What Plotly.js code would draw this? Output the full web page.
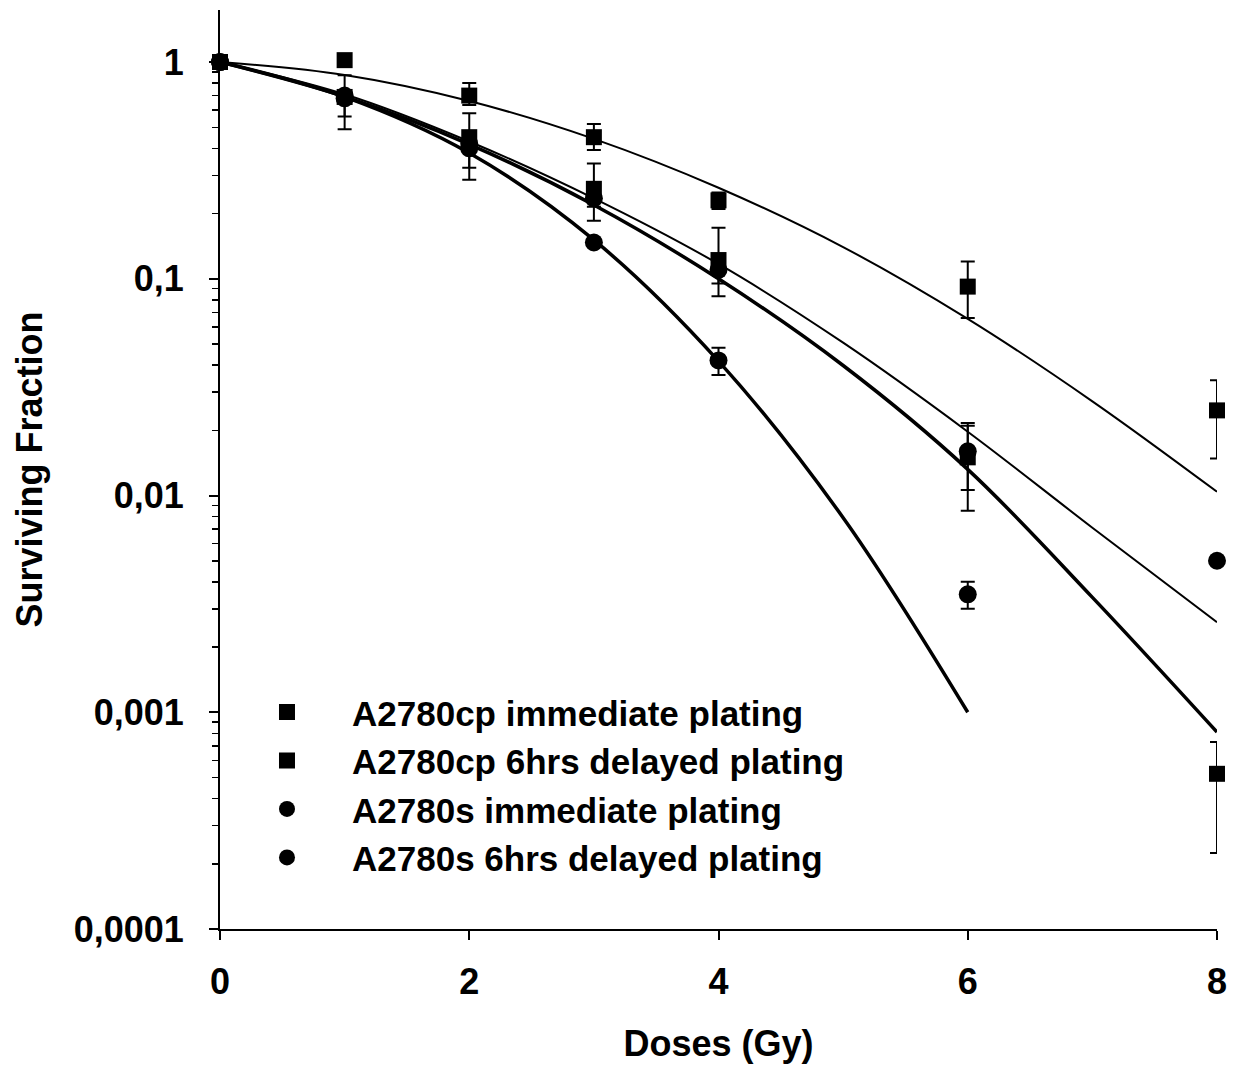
<!DOCTYPE html>
<html>
<head>
<meta charset="utf-8">
<script src="https://cdn.plot.ly/plotly-3.0.1.min.js"></script>
<style>html,body{margin:0;padding:0;background:#fff;}#chart{width:1236px;height:1070px;}</style>
</head>
<body>
<div id="chart"></div>
<script>
// ---- Data ----
// Fitted survival curves (dose in Gy, surviving fraction)
var curveDose = [0, 1, 2, 3, 4, 5, 6, 7, 8];
var curveCpDelayed = [1, 0.871, 0.661, 0.442, 0.263, 0.140, 0.0653, 0.0272, 0.0104];
var curveCpImmediate = [1, 0.71, 0.43, 0.235, 0.117, 0.0507, 0.0197, 0.0071, 0.0026];
var curveSDelayed = [1, 0.692, 0.417, 0.219, 0.100, 0.0398, 0.0132, 0.00339, 0.00081];
var curveSImmDose = [0, 1, 2, 3, 4, 5, 6];
var curveSImmediate = [1, 0.69, 0.38, 0.151, 0.0417, 0.0079, 0.001];

// Measured points with asymmetric error bars
var cpImmDose = [0, 1, 2, 3, 4, 6, 8];
var cpImmSF = [1, 0.69, 0.45, 0.26, 0.122, 0.015, 0.00052];
var cpImmErrPlus = [0, 0.18, 0.13, 0.08, 0.05, 0.0066, 0.00021];
var cpImmErrMinus = [0, 0.20, 0.164, 0.075, 0.039, 0.0065, 0.000296];

var cpDelDose = [0, 1, 2, 3, 4, 6, 8];
var cpDelSF = [1, 1.02, 0.70, 0.45, 0.23, 0.092, 0.0247];
var cpDelErrPlus = [0, 0, 0.10, 0.068, 0.02, 0.028, 0.0093];
var cpDelErrMinus = [0, 0, 0.066, 0.057, 0.02, 0.026, 0.0099];

var sImmDose = [0, 1, 2, 3, 4, 6];
var sImmSF = [1, 0.68, 0.40, 0.147, 0.042, 0.0035];
var sImmErrPlus = [0, 0.03, 0.03, 0, 0.006, 0.0005];
var sImmErrMinus = [0, 0.12, 0.075, 0, 0.006, 0.0005];

var sDelDose = [0, 1, 2, 3, 4, 6, 8];
var sDelSF = [1, 0.70, 0.42, 0.235, 0.11, 0.016, 0.005];
var sDelErrPlus = [0, 0, 0, 0.02, 0.015, 0.005, 0];
var sDelErrMinus = [0, 0, 0, 0.02, 0.015, 0.0054, 0];

var legendNames = ['A2780cp immediate plating', 'A2780cp 6hrs delayed plating',
                   'A2780s immediate plating', 'A2780s 6hrs delayed plating'];

// ---- Styling ----
var FONT = 'Liberation Sans, Arial, Helvetica, sans-serif';
var black = '#000000';

function curve(x, y, w) {
  return {x: x, y: y, mode: 'lines', type: 'scatter', showlegend: false, hoverinfo: 'skip',
          line: {color: black, width: w, shape: 'spline', smoothing: 1}};
}
function points(name, x, y, plus, minus, symbol, size) {
  return {x: x, y: y, name: name, mode: 'markers', type: 'scatter', cliponaxis: false,
          marker: {symbol: symbol, size: size, color: black},
          error_y: {type: 'data', symmetric: false, array: plus, arrayminus: minus,
                    color: black, thickness: 2, width: 7}};
}

var traces = [
  curve(curveDose, curveCpDelayed, 2),
  curve(curveDose, curveCpImmediate, 2),
  curve(curveDose, curveSDelayed, 3.5),
  curve(curveSImmDose, curveSImmediate, 3.5),
  points(legendNames[0], cpImmDose, cpImmSF, cpImmErrPlus, cpImmErrMinus, 'square', 16),
  points(legendNames[1], cpDelDose, cpDelSF, cpDelErrPlus, cpDelErrMinus, 'square', 16),
  points(legendNames[2], sImmDose, sImmSF, sImmErrPlus, sImmErrMinus, 'circle', 18),
  points(legendNames[3], sDelDose, sDelSF, sDelErrPlus, sDelErrMinus, 'circle', 18)
];

var tickFont = {family: FONT, size: 36, color: black, weight: 'bold'};
var titleFont = {family: FONT, size: 36, color: black, weight: 'bold'};

var layout = {
  width: 1236, height: 1070,
  margin: {l: 220, r: 19, t: 10, b: 141},
  paper_bgcolor: '#ffffff', plot_bgcolor: '#ffffff',
  separators: ', ',
  font: {family: FONT, color: black},
  showlegend: true,
  legend: {x: 0.002, y: 0.268, xanchor: 'left', yanchor: 'top', bgcolor: 'rgba(0,0,0,0)',
           itemwidth: 120, font: {family: FONT, size: 35, color: black, weight: 'bold'},
           tracegroupgap: 0},
  xaxis: {range: [0, 8], tickmode: 'linear', tick0: 0, dtick: 2,
          showline: true, linecolor: black, linewidth: 2, mirror: false,
          ticks: 'outside', ticklen: 9, tickwidth: 2, tickcolor: black,
          showgrid: false, zeroline: false, tickfont: tickFont, ticklabelstandoff: 11,
          title: {text: 'Doses (Gy)', font: titleFont, standoff: 30}},
  yaxis: {type: 'log', range: [-4, 0.24], tickmode: 'linear', tick0: 0, dtick: 1,
          exponentformat: 'none',
          showline: true, linecolor: black, linewidth: 2,
          ticks: 'outside', ticklen: 9, tickwidth: 2, tickcolor: black,
          minor: {dtick: 'D1', ticks: 'outside', ticklen: 6, tickwidth: 1.5, tickcolor: black, showgrid: false},
          showgrid: false, zeroline: false, tickfont: tickFont, ticklabelstandoff: 18,
          title: {text: 'Surviving Fraction', font: titleFont, standoff: 20}}
};

Plotly.newPlot('chart', traces, layout, {displayModeBar: false, staticPlot: true});
</script>
</body>
</html>
